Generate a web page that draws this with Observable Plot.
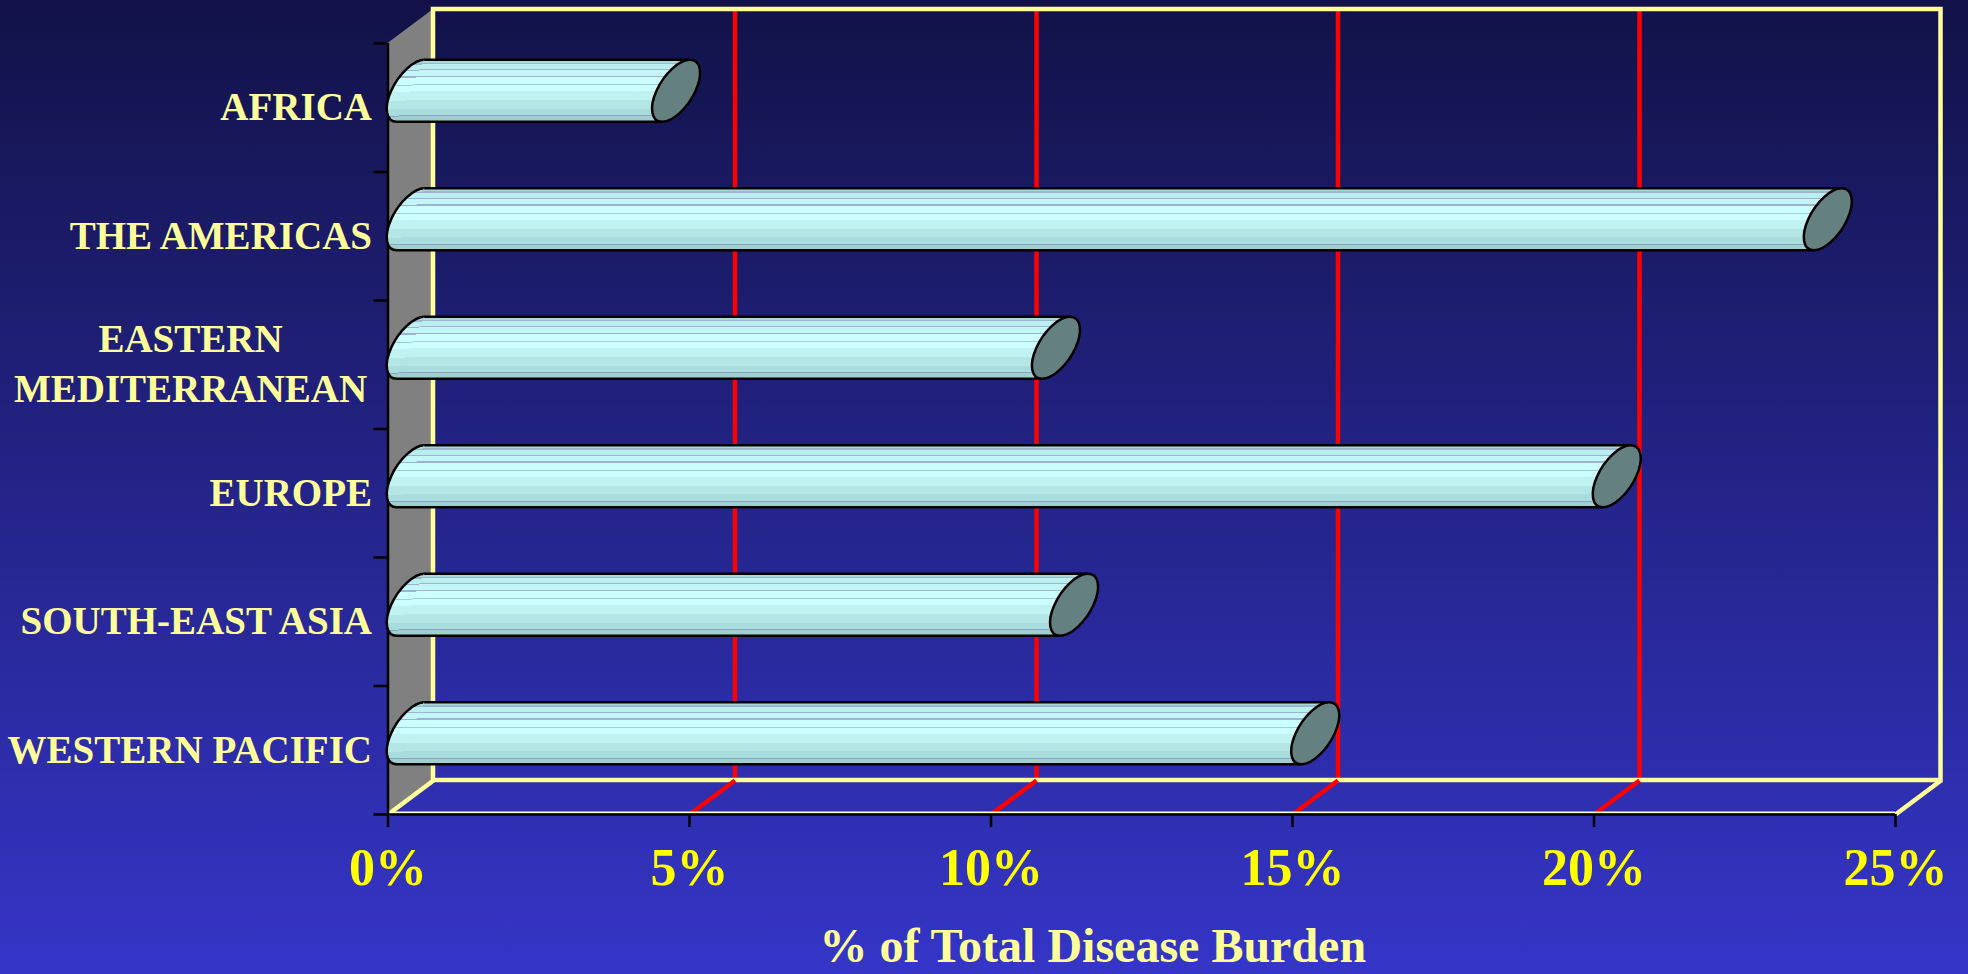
<!DOCTYPE html>
<html>
<head>
<meta charset="utf-8">
<script src="https://cdn.jsdelivr.net/npm/d3@7"></script>
<script src="https://cdn.jsdelivr.net/npm/@observablehq/plot@0.6"></script>
<style>
  html, body { margin: 0; padding: 0; }
  body {
    width: 1968px; height: 974px; overflow: hidden;
    background: linear-gradient(to bottom, #121248 0%, #3535c8 100%);
  }
  #chart svg { display: block; }
</style>
</head>
<body>
<!-- shaded fill for the cylinders -->
<svg width="0" height="0" style="position:absolute">
  <defs>
    <linearGradient id="tube" x1="0" y1="0" x2="0" y2="1"></linearGradient>
  </defs>
</svg>
<div id="chart"></div>
<script>
// ---- data ----
const regions = ["AFRICA", "THE AMERICAS", "EASTERN\nMEDITERRANEAN", "EUROPE", "SOUTH-EAST ASIA", "WESTERN PACIFIC"];
const burdenPct = [4.4, 23.5, 10.7, 20.0, 11.0, 15.0];
const percentTicks = [0, 5, 10, 15, 20, 25];
const gridlinePct = [5, 10, 15, 20];
const axisTitle = "% of Total Disease Burden";

// ---- cylinder shading bands (offset from, offset to, colour) ----
const tubeBands = [
  [0.00, 0.06, "#a9dada"], [0.06, 0.08, "#9bb8cc"], [0.08, 0.16, "#bbeeee"],
  [0.16, 0.18, "#9fb2d6"], [0.18, 0.27, "#c3f7f7"], [0.27, 0.29, "#9fb2d6"],
  [0.29, 0.40, "#ccffff"], [0.40, 0.42, "#a8c8dc"], [0.42, 0.52, "#ccffff"],
  [0.52, 0.66, "#c0f2f2"], [0.66, 0.80, "#b4e6e6"], [0.80, 0.90, "#a9dcdc"],
  [0.90, 0.92, "#8ea2c8"], [0.92, 1.00, "#9fd0d0"]
];
const grad = d3.select("#tube");
for (const [a, b, c] of tubeBands) {
  grad.append("stop").attr("offset", a).attr("stop-color", c);
  grad.append("stop").attr("offset", b).attr("stop-color", c);
}

// ---- layout ----
const width = 1968, height = 974;
const margin = {top: 43, right: 73, bottom: 160, left: 387.5};
const xMax = 25;
const rows = regions.length;
const depthX = 45.5, depthY = 34;      // oblique depth of the 3-D box (px)
const tubeR = 31;                       // half height of a cylinder (px)
const capHalfW = 24;                    // half width of the cylinder's end ellipse (px)
const pxPerPct = (width - margin.left - margin.right) / xMax;
const pxPerRow = (height - margin.top - margin.bottom) / rows;
const depthXu = depthX / pxPerPct, depthYu = depthY / pxPerRow;

// tilted end ellipse: P(t) = T cos t + H sin t (conjugate half-diameters)
const capC = capHalfW * depthY / depthX;
const capB = Math.sqrt(tubeR * tubeR - capC * capC);
const tanX = capHalfW * capC / tubeR;   // x of the top tangent point
const T = [tanX, -tubeR], H = [-capHalfW * capB / tubeR, 0];
const K = 0.5523;
function ellipsePath(ctx, full) {
  const neg = a => [-a[0], -a[1]];
  const quads = [[T, H], [H, neg(T)], [neg(T), neg(H)], [neg(H), T]];
  ctx.moveTo(T[0], T[1]);
  for (let i = 0; i < (full ? 4 : 2); i++) {
    const [a, b] = quads[i];
    ctx.bezierCurveTo(a[0] + K * b[0], a[1] + K * b[1], b[0] + K * a[0], b[1] + K * a[1], b[0], b[1]);
  }
  if (full) ctx.closePath();
}
const capEnd = {draw: ctx => ellipsePath(ctx, true)};
const capStart = {draw: ctx => ellipsePath(ctx, false)};

const bars = regions.map((region, i) => ({region, row: i + 0.5, pct: burdenPct[i], multi: region.includes("\n")}));
const bodyPts = bars.flatMap(b => [
  {region: b.region, y: b.row - tubeR / pxPerRow, x1: tanX / pxPerPct, x2: b.pct + tanX / pxPerPct},
  {region: b.region, y: b.row + tubeR / pxPerRow, x1: -tanX / pxPerPct, x2: b.pct - tanX / pxPerPct}
]);

const mid = {dx: depthX / 2, dy: -depthY / 2};
const red = "#ff0000", frameYellow = "#ffff99";
const labelFont = {fontSize: 39, fontWeight: "bold", fill: frameYellow};

const chart = Plot.plot({
  width, height,
  marginTop: margin.top, marginRight: margin.right, marginBottom: margin.bottom, marginLeft: margin.left,
  x: {domain: [0, xMax]},
  y: {domain: [0, rows], reverse: true},
  style: {
    background: "transparent",
    fontFamily: "'Liberation Serif', 'Times New Roman', Times, serif",
    fontWeight: "bold",
    overflow: "visible"
  },
  marks: [
    // grey side wall
    Plot.areaY([{x: 0, y1: 0, y2: rows}, {x: depthXu, y1: -depthYu, y2: rows - depthYu}],
      {x: "x", y1: "y1", y2: "y2", fill: "#808080"}),
    // red gridlines on the back wall
    Plot.ruleX(gridlinePct, {y1: () => 0, y2: () => rows, dx: depthX, dy: -depthY, stroke: red, strokeWidth: 4.5}),
    // back wall frame
    Plot.rect([xMax], {x1: () => 0, x2: d => d, y1: () => 0, y2: () => rows, dx: depthX, dy: -depthY,
      fill: "none", stroke: frameYellow, strokeWidth: 4.5}),
    // floor receding lines
    Plot.link(gridlinePct, {x1: d => d, y1: () => rows, x2: d => d + depthXu, y2: () => rows - depthYu,
      stroke: red, strokeWidth: 4.5}),
    Plot.link([0, xMax], {x1: d => d, y1: () => rows, x2: d => d + depthXu, y2: () => rows - depthYu,
      stroke: frameYellow, strokeWidth: 4.5}),
    // front floor edge and axis lines
    Plot.ruleY([rows], {x1: () => 0, x2: () => xMax, dy: -2, stroke: "#ffffc8", strokeWidth: 2}),
    Plot.ruleY([rows], {x1: () => 0, x2: () => xMax, stroke: "black", strokeWidth: 2.5}),
    Plot.ruleX([0], {y1: () => 0, y2: () => rows, stroke: "black", strokeWidth: 2.5}),
    // axes
    Plot.axisY({ticks: d3.range(rows + 1), tickSize: 14, tickFormat: () => "", stroke: "black", strokeWidth: 2.5, label: null}),
    Plot.axisY({ticks: bars.filter(b => !b.multi).map(b => b.row), tickSize: 0, tickPadding: 16,
      tickFormat: d => regions[Math.floor(d)], ...labelFont, label: null}),
    Plot.text(bars.filter(b => b.multi), {x: () => 0, y: "row", text: "region", textAnchor: "middle",
      dx: -197.5, dy: -4, lineHeight: 1.3, ...labelFont}),
    Plot.axisX({ticks: percentTicks, tickSize: 13, tickPadding: 21, tickFormat: d => d + "%",
      stroke: "black", strokeWidth: 2.5, fill: "#ffff00", fontSize: 52, fontWeight: "bold", label: null}),
    Plot.text([axisTitle], {text: d => d, frameAnchor: "bottom", dx: -49, dy: 147, fontSize: 48,
      fontWeight: "bold", fill: frameYellow}),
    // cylinders
    Plot.dot(bars, {x: () => 0, y: "row", symbol: capStart, r: tubeR, fill: "url(#tube)",
      stroke: "black", strokeWidth: 2.5, strokeLinejoin: "round", ...mid}),
    Plot.areaX(bodyPts, {y: "y", x1: "x1", x2: "x2", z: "region", fill: "url(#tube)", ...mid}),
    Plot.ruleY(bars, {y: "row", x1: () => 0, x2: "pct", dx: depthX / 2 + tanX, dy: -depthY / 2 - tubeR,
      stroke: "black", strokeWidth: 2.5}),
    Plot.ruleY(bars, {y: "row", x1: () => 0, x2: "pct", dx: depthX / 2 - tanX, dy: -depthY / 2 + tubeR,
      stroke: "black", strokeWidth: 2.5}),
    Plot.dot(bars, {x: "pct", y: "row", symbol: capEnd, r: tubeR, fill: "#648080",
      stroke: "black", strokeWidth: 2.5, strokeLinejoin: "round", ...mid})
  ]
});
document.getElementById("chart").append(chart);
</script>
</body>
</html>
